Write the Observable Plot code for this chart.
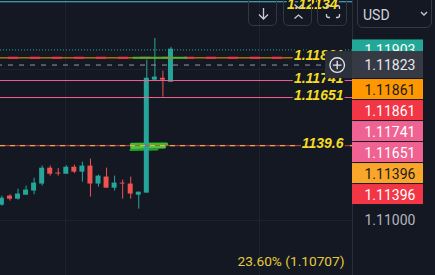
<!DOCTYPE html>
<html><head><meta charset="utf-8">
<script src="https://cdn.jsdelivr.net/npm/d3@7"></script>
<script src="https://cdn.jsdelivr.net/npm/@observablehq/plot@0.6"></script>
<style>
html,body{margin:0;padding:0;background:#141823;}
#wrap{position:relative;width:435px;height:275px;overflow:hidden;background:#141823;font-family:Roboto,"Liberation Sans",sans-serif;}
#wrap svg.plot{position:absolute;left:0;top:0;}
.btn{position:absolute;top:-6px;height:32px;border:1px solid #333743;border-radius:5px;box-sizing:border-box;background:transparent;}
.btn svg{position:absolute;left:0;top:0;}
#usd{position:absolute;left:357px;top:-6px;width:75px;height:34px;border:1px solid #363a45;border-radius:6px;box-sizing:border-box;color:#d1d4dc;font-size:14px;}
#usd span{position:absolute;left:5px;top:13px;line-height:14px;}
#usd svg{position:absolute;left:62px;top:16px;}
</style></head><body><div id="wrap"></div>
<script>
// ---- data ----
const candleIdx = [0,1,2,3,4,5,6,7,8,9,10,11,12,13,14,15,16,17,18,19,20,21];
const open  = [1.11081,1.11129,1.11113,1.11134,1.11156,1.11193,1.11277,1.11251,1.11245,1.11282,1.11256,1.11288,1.11193,1.11230,1.11171,1.11198,1.11193,1.11134,1.11145,1.11743,1.11753,1.11732];
const close = [1.11118,1.11113,1.11140,1.11161,1.11198,1.11277,1.11245,1.11246,1.11282,1.11256,1.11288,1.11193,1.11235,1.11171,1.11198,1.11193,1.11140,1.11150,1.11753,1.11759,1.11743,1.11907];
const high  = [1.11129,1.11136,1.11166,1.11182,1.11224,1.11289,1.11289,1.11275,1.11290,1.11293,1.11309,1.11325,1.11240,1.11277,1.11235,1.11214,1.11230,1.11150,1.11849,1.11964,1.11790,1.11917];
const low   = [1.11076,1.11103,1.11108,1.11134,1.11136,1.11182,1.11235,1.11235,1.11245,1.11248,1.11203,1.11124,1.11177,1.11171,1.11156,1.11113,1.11113,1.11060,1.11145,1.11737,1.11653,1.11732];

const gridPrices = [1.110, 1.114, 1.118];
const gridTimes = [7.9, 32];
const axisTicks = [1.110];

const topLevel = 1.12158;
const tealLevel = 1.11903;
const orangeLevel = 1.11861;
const lastPrice = 1.11823;
const pinkLevels = [1.11741, 1.11651];
const fibLevel = 1.11396;
const fibLabelLevel = 1.10707;

const drawLabelPrices = [1.11861, 1.11741, 1.11651, 1.11396];
const drawLabelTexts = ["1.11861", "1.11741", "1.11651", "1139.6"];
const topLabelPrice = 1.12134;
const topLabelText = "1.12134";
const fibText = "23.60% (1.10707)";

const tagPrices = [1.11903, 1.11823, 1.11861, 1.11861, 1.11741, 1.11651, 1.11396, 1.11396];
const tagKinds  = ["teal", "last", "orange", "red", "pink", "pink", "amber", "red"];

// hand-drawn highlighter strokes (index, price)
const scribbleStroke = [0, 0, 1, 1, 2, 2];
const scribbleX = [16.1, 20.45, 16.1, 20.2, 15.97, 19.33];
const scribbleY = [1.11402, 1.11404, 1.11387, 1.11389, 1.11373, 1.11376];
const highlightRange = [16.35, 23.06];

// ---- styles ----
const UP = "#26a69a", DOWN = "#ef5350";
const tagStyle = {
  teal:   {fill: "#22a896", text: "#ffffff", h: 20},
  last:   {fill: "#363a45", text: "#e6e8ee", h: 27},
  orange: {fill: "#ff9800", text: "#1a1a1a", h: 20},
  red:    {fill: "#f23645", text: "#ffffff", h: 20},
  pink:   {fill: "#f06292", text: "#ffffff", h: 20},
  amber:  {fill: "#f9a62b", text: "#1a1a1a", h: 20}
};
const W = 435, H = 275, AXIS = 83;
const xDomain = [-0.174, 43.55];
const yDomain = [1.107088, 1.121647];

const xs = Plot.scale({x: {domain: xDomain, range: [0, W - AXIS]}});
const ys = Plot.scale({y: {domain: yDomain, range: [H, 0]}});

const candles = candleIdx.map((i, k) => ({i, open: open[k], close: close[k], high: high[k], low: low[k], up: close[k] >= open[k]}));
const scribble = scribbleX.map((x, k) => ({s: scribbleStroke[k], x, y: scribbleY[k]}));
const half = 0.31;

// stacked price tags
let prevBottom = -Infinity;
const tags = tagPrices.map((p, k) => {
  const st = tagStyle[tagKinds[k]];
  const c = ys.apply(p);
  let top = c - st.h / 2;
  if (k >= 2) top = Math.max(top, prevBottom + 1);
  prevBottom = top + st.h;
  return {label: p.toFixed(5), kind: tagKinds[k], y1: ys.invert(top), y2: ys.invert(top + st.h), yc: ys.invert(top + st.h / 2 + 0.5)};
});
const tagX1 = xs.invert(W - AXIS), tagX2 = xs.invert(423), tagTextX = xs.invert(364);
const lastC = ys.apply(lastPrice);
const plusBox = [{y1: ys.invert(lastC - 13.5), y2: ys.invert(lastC + 13.5), y: lastPrice}];

const drawLabels = drawLabelPrices.map((p, k) => ({price: p, text: drawLabelTexts[k]}));

const yellow = {fill: "#f3dc22", stroke: "#141823", strokeWidth: 4, strokeLinejoin: "round", paintOrder: "stroke",
  fontFamily: "Liberation Sans, Arial, sans-serif", fontWeight: "bold", fontStyle: "italic", fontSize: 14, textAnchor: "end"};

const marks = [
  Plot.gridY(gridPrices, {stroke: "#1f232e", strokeOpacity: 1}),
  Plot.gridX(gridTimes, {stroke: "#1f232e", strokeOpacity: 1}),
  // highlighter scribble
  Plot.line(scribble, {x: "x", y: "y", z: "s", stroke: (d) => ["#2fbf2f", "#3ccf3c", "#27a227"][d.s], strokeWidth: (d) => [3.5, 3, 2][d.s]}),
  // candles
  Plot.ruleX(candles, {x: "i", y1: "low", y2: "high", stroke: (d) => d.up ? UP : DOWN, strokeWidth: 1}),
  Plot.rect(candles, {x1: (d) => d.i - half, x2: (d) => d.i + half, y1: "open", y2: "close", fill: (d) => d.up ? UP : DOWN}),
  // horizontal drawings
  Plot.ruleY([topLevel], {stroke: "#4fbfd6", strokeWidth: 1}),
  Plot.ruleY([tealLevel], {stroke: "#26a69a", strokeWidth: 1, strokeDasharray: "1,2"}),
  Plot.ruleY([orangeLevel], {stroke: "#ff9800", strokeWidth: 1}),
  Plot.ruleY([orangeLevel], {stroke: "#f23645", strokeWidth: 2, strokeDasharray: "10,12", strokeDashoffset: 14}),
  Plot.ruleY([orangeLevel], {x1: () => highlightRange[0], x2: () => highlightRange[1], stroke: "#46b82e", strokeWidth: 2, strokeOpacity: 0.9}),
  Plot.ruleY([lastPrice], {stroke: "#9598a1", strokeWidth: 1, strokeDasharray: "5,6", strokeDashoffset: 3}),
  Plot.ruleY(pinkLevels, {stroke: "#f06292", strokeWidth: 1}),
  Plot.ruleY([fibLevel], {stroke: "#e2374a", strokeWidth: 1}),
  Plot.ruleY([fibLevel], {stroke: "#f0c94a", strokeWidth: 1, strokeDasharray: "5,5"}),
  // drawing labels
  Plot.text(drawLabels, {y: "price", text: "text", frameAnchor: "right", dx: -9, dy: -2.5, ...yellow}),
  Plot.text([topLabelPrice], {y: (d) => d, text: () => topLabelText, frameAnchor: "right", dx: -15, dy: -2, ...yellow}),
  Plot.text([fibLabelLevel], {y: (d) => d, text: () => fibText, frameAnchor: "right", dx: -8, dy: -14,
    fill: "#e4cb3a", fontFamily: "Roboto, sans-serif", fontSize: 13.7, textAnchor: "end"}),
  // plus button on the last price
  Plot.rect(plusBox, {x1: () => xs.invert(325), x2: () => xDomain[1], y1: "y1", y2: "y2", fill: "#2c303b"}),
  Plot.dot(plusBox, {x: () => xs.invert(336.7), y: "y", r: 7.3, stroke: "#e6e8ee", strokeWidth: 1.3, fill: "none"}),
  Plot.dot(plusBox, {x: () => xs.invert(336.7), y: "y", r: 2.9, symbol: "plus", stroke: "#e6e8ee", strokeWidth: 1.3}),
  // price axis
  Plot.ruleX([xDomain[1]], {stroke: "#2a2e39"}),
  Plot.axisY(axisTicks, {anchor: "right", tickSize: 0, tickPadding: 12, tickFormat: (d) => d.toFixed(5), fill: "#b2b5be", fontSize: 14, label: null}),
  ...tags.flatMap((t) => [
    Plot.rect([t], {x1: () => tagX1, x2: () => tagX2, y1: "y1", y2: "y2", fill: tagStyle[t.kind].fill}),
    Plot.text([t], {x: () => tagTextX, y: "yc", text: "label", fill: tagStyle[t.kind].text, textAnchor: "start", fontSize: 14, fontFamily: "Roboto, sans-serif"})
  ])
];

const chart = Plot.plot({
  width: W, height: H,
  marginLeft: 0, marginRight: AXIS, marginTop: 0, marginBottom: 0,
  x: {domain: xDomain, axis: null},
  y: {domain: yDomain, axis: null},
  style: {background: "transparent", color: "#b2b5be", fontFamily: "Roboto, sans-serif", fontSize: "14px", overflow: "visible"},
  marks
});
const wrap = document.getElementById("wrap");
wrap.appendChild(chart);

// toolbar buttons (UI chrome)
const ic = "#c9ccd4";
const btns = [
  {left: 248, w: 29, svg: `<svg width="29" height="32"><path d="M14.5 13 V24 M10 19.5 L14.5 24 L19 19.5" stroke="${ic}" stroke-width="1.3" fill="none"/></svg>`},
  {left: 283, w: 29, svg: `<svg width="29" height="32"><path d="M10.5 9.5 L14.5 13 L18.5 9.5 M10.5 23.5 L14.5 20 L18.5 23.5" stroke="${ic}" stroke-width="1.3" fill="none"/></svg>`},
  {left: 317, w: 30, svg: `<svg width="30" height="32"><path d="M8.5 14 V12.5 Q8.5 10.5 10.5 10.5 H12 M18 10.5 H19.5 Q21.5 10.5 21.5 12.5 V14 M21.5 19 V20.5 Q21.5 22.5 19.5 22.5 H18 M12 22.5 H10.5 Q8.5 22.5 8.5 20.5 V19" stroke="${ic}" stroke-width="1.3" fill="none"/></svg>`}
];
for (const b of btns) {
  const d = document.createElement("div");
  d.className = "btn";
  d.style.left = b.left + "px";
  d.style.width = b.w + "px";
  d.innerHTML = b.svg;
  wrap.appendChild(d);
}
const usd = document.createElement("div");
usd.id = "usd";
usd.innerHTML = `<span>USD</span><svg width="8" height="6"><path d="M1 1 L4 4 L7 1" stroke="#c9ccd4" stroke-width="1.3" fill="none"/></svg>`;
wrap.appendChild(usd);
</script>
</body></html>
